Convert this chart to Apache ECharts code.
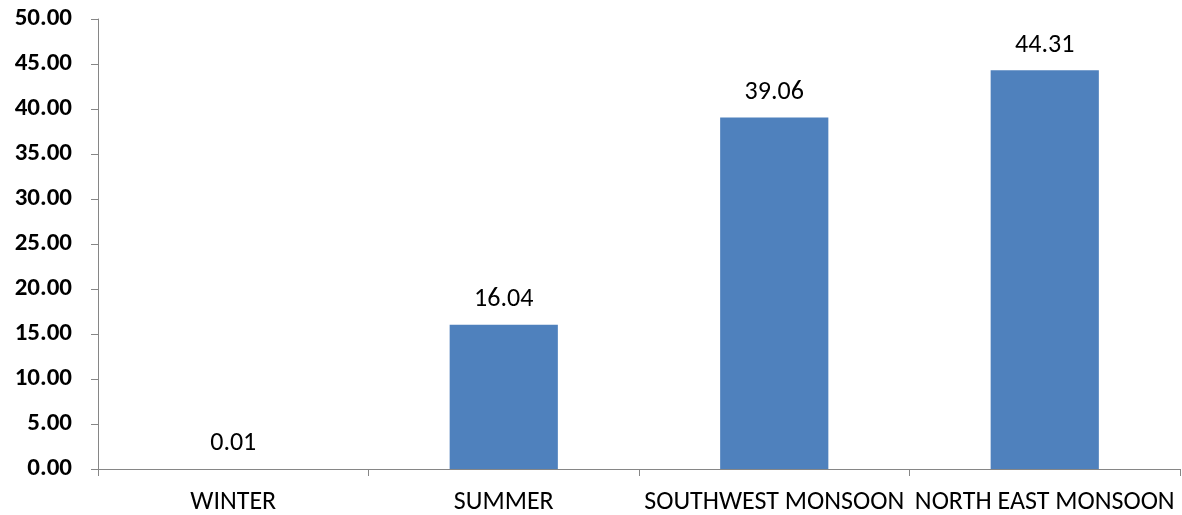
<!DOCTYPE html>
<html>
<head>
<meta charset="utf-8">
<script src="https://cdn.jsdelivr.net/npm/echarts@6/dist/echarts.min.js"></script>
<style>
  html, body { margin: 0; padding: 0; background: #fff; }
  #chart { width: 1182px; height: 515px; }
</style>
</head>
<body>
<div id="chart"></div>
<script>
// Seasonal values
const seasons = ['WINTER', 'SUMMER', 'SOUTHWEST MONSOON', 'NORTH EAST MONSOON'];
const values = [0.01, 16.04, 39.06, 44.31];
const yMin = 0;
const yMax = 50;
const yStep = 5;

const font = "Carlito, 'Liberation Sans', sans-serif";
const axisGray = '#868686';

const chart = echarts.init(document.getElementById('chart'));
chart.setOption({
  animation: false,
  grid: { left: 98, right: 2, top: 19, bottom: 46, containLabel: false },
  xAxis: {
    type: 'category',
    data: seasons,
    boundaryGap: true,
    axisLine: { lineStyle: { color: axisGray, width: 1 } },
    axisTick: { show: true, length: 7, lineStyle: { color: axisGray } },
    axisLabel: { color: '#000', fontFamily: font, fontSize: 26, margin: 20, interval: 0 }
  },
  yAxis: {
    type: 'value',
    min: yMin,
    max: yMax,
    interval: yStep,
    splitLine: { show: false },
    axisLine: { show: true, lineStyle: { color: axisGray, width: 1 } },
    axisTick: { show: true, length: 7, lineStyle: { color: axisGray } },
    axisLabel: {
      color: '#000', fontFamily: font, fontSize: 25, fontWeight: 'bold', margin: 26,
      formatter: v => v.toFixed(2)
    }
  },
  series: [{
    type: 'bar',
    data: values,
    barWidth: '40%',
    itemStyle: { color: '#4F81BD' },
    label: {
      show: true, position: 'top', distance: 12,
      color: '#000', fontFamily: font, fontSize: 26,
      formatter: p => p.value.toFixed(2)
    }
  }]
});
</script>
</body>
</html>
